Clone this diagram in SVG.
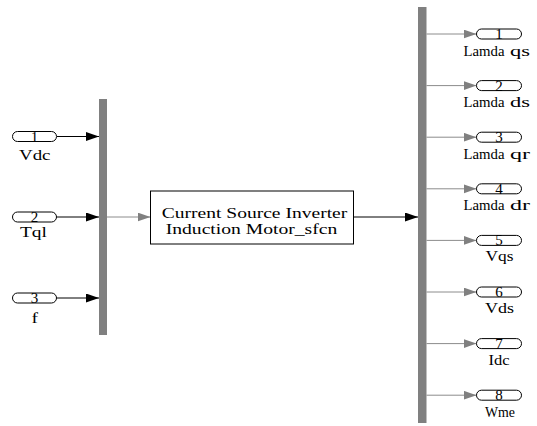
<svg xmlns="http://www.w3.org/2000/svg" width="537" height="426" viewBox="0 0 537 426">
<style>
text{font-family:"Liberation Serif","Times New Roman",serif;fill:#000}
.num{font-size:15px;text-anchor:middle}
.lbl{font-size:15px}
.lam{font-size:15.5px}
.port{fill:#fff;stroke:#000;stroke-width:1}
.bus{fill:#808080}
.blk{fill:#fff;stroke:#000;stroke-width:1}
.bt{font-size:15.5px}
.wb{stroke:#000;stroke-width:1;fill:none}
.wg{stroke:#8c8c8c;stroke-width:1;fill:none}
</style>
<defs>
<marker id="ab" markerUnits="userSpaceOnUse" markerWidth="13" markerHeight="10" refX="13" refY="4.5" orient="auto"><path d="M0,0 L13,4.5 L0,9 Z" fill="#000"/></marker>
<marker id="ag" markerUnits="userSpaceOnUse" markerWidth="13" markerHeight="10" refX="13" refY="4.5" orient="auto"><path d="M0,0 L13,4.5 L0,9 Z" fill="#808080"/></marker>
</defs>
<g id="connectors">
<line class="wb" x1="57" y1="136.5" x2="99" y2="136.5" marker-end="url(#ab)"/>
<line class="wb" x1="57" y1="217" x2="99" y2="217" marker-end="url(#ab)"/>
<line class="wb" x1="57" y1="298" x2="99" y2="298" marker-end="url(#ab)"/>
<line class="wg" x1="107" y1="217" x2="150.5" y2="217" marker-end="url(#ag)"/>
<line class="wb" x1="353.5" y1="217" x2="418" y2="217" marker-end="url(#ab)"/>
<line class="wg" x1="426.5" y1="34" x2="476.5" y2="34" marker-end="url(#ag)"/>
<line class="wg" x1="426.5" y1="85.6" x2="476.5" y2="85.6" marker-end="url(#ag)"/>
<line class="wg" x1="426.5" y1="137.2" x2="476.5" y2="137.2" marker-end="url(#ag)"/>
<line class="wg" x1="426.5" y1="188.8" x2="476.5" y2="188.8" marker-end="url(#ag)"/>
<line class="wg" x1="426.5" y1="240.4" x2="476.5" y2="240.4" marker-end="url(#ag)"/>
<line class="wg" x1="426.5" y1="292" x2="476.5" y2="292" marker-end="url(#ag)"/>
<line class="wg" x1="426.5" y1="343.6" x2="476.5" y2="343.6" marker-end="url(#ag)"/>
<line class="wg" x1="426.5" y1="395.2" x2="476.5" y2="395.2" marker-end="url(#ag)"/>
</g>
<g id="in1"><rect class="port" x="12.5" y="131.5" width="44" height="10" rx="5"/><text class="num" x="34.5" y="141.5">1</text><text class="lbl" x="19" y="159.5" textLength="31.5" lengthAdjust="spacingAndGlyphs">Vdc</text></g>
<g id="in2"><rect class="port" x="12.5" y="212" width="44" height="10" rx="5"/><text class="num" x="34.5" y="222">2</text><text class="lbl" x="20" y="237" textLength="27" lengthAdjust="spacingAndGlyphs">Tql</text></g>
<g id="in3"><rect class="port" x="12.5" y="293" width="44" height="10" rx="5"/><text class="num" x="34.5" y="303">3</text><text class="lbl" x="31.5" y="323" textLength="6.5" lengthAdjust="spacingAndGlyphs">f</text></g>
<g id="mux"><rect class="bus" x="99" y="99" width="8" height="236"/></g>
<g id="sfcn"><rect class="blk" x="150.5" y="191" width="203" height="53"/>
<text class="bt" x="161.7" y="217.5" textLength="185.6" lengthAdjust="spacingAndGlyphs">Current Source Inverter</text>
<text class="bt" x="165.7" y="234" textLength="171.6" lengthAdjust="spacingAndGlyphs">Induction Motor_sfcn</text></g>
<g id="demux"><rect class="bus" x="418" y="7" width="8.5" height="416"/></g>
<g id="out1"><rect class="port" x="476.5" y="29" width="45" height="10" rx="5"/><text class="num" x="499" y="39">1</text><text class="lam" y="55.5"><tspan x="463.5" textLength="41" lengthAdjust="spacingAndGlyphs">Lamda</tspan><tspan x="510" textLength="20" lengthAdjust="spacingAndGlyphs">qs</tspan></text></g>
<g id="out2"><rect class="port" x="476.5" y="80.6" width="45" height="10" rx="5"/><text class="num" x="499" y="90.6">2</text><text class="lam" y="107.1"><tspan x="463.5" textLength="41" lengthAdjust="spacingAndGlyphs">Lamda</tspan><tspan x="510" textLength="20" lengthAdjust="spacingAndGlyphs">ds</tspan></text></g>
<g id="out3"><rect class="port" x="476.5" y="132.2" width="45" height="10" rx="5"/><text class="num" x="499" y="142.2">3</text><text class="lam" y="158.7"><tspan x="463.5" textLength="41" lengthAdjust="spacingAndGlyphs">Lamda</tspan><tspan x="510" textLength="20" lengthAdjust="spacingAndGlyphs">qr</tspan></text></g>
<g id="out4"><rect class="port" x="476.5" y="183.8" width="45" height="10" rx="5"/><text class="num" x="499" y="193.8">4</text><text class="lam" y="210.3"><tspan x="463.5" textLength="41" lengthAdjust="spacingAndGlyphs">Lamda</tspan><tspan x="510" textLength="20" lengthAdjust="spacingAndGlyphs">dr</tspan></text></g>
<g id="out5"><rect class="port" x="476.5" y="235.4" width="45" height="10" rx="5"/><text class="num" x="499" y="245.4">5</text><text class="lbl" x="485.5" y="260.9" textLength="28" lengthAdjust="spacingAndGlyphs">Vqs</text></g>
<g id="out6"><rect class="port" x="476.5" y="287" width="45" height="10" rx="5"/><text class="num" x="499" y="297">6</text><text class="lbl" x="485" y="312.5" textLength="29" lengthAdjust="spacingAndGlyphs">Vds</text></g>
<g id="out7"><rect class="port" x="476.5" y="338.6" width="45" height="10" rx="5"/><text class="num" x="499" y="348.6">7</text><text class="lbl" x="488.5" y="364.5" textLength="21" lengthAdjust="spacingAndGlyphs">Idc</text></g>
<g id="out8"><rect class="port" x="476.5" y="390.2" width="45" height="10" rx="5"/><text class="num" x="499" y="400.2">8</text><text class="lbl" x="485" y="416.5" textLength="30" lengthAdjust="spacingAndGlyphs">Wme</text></g>
</svg>
